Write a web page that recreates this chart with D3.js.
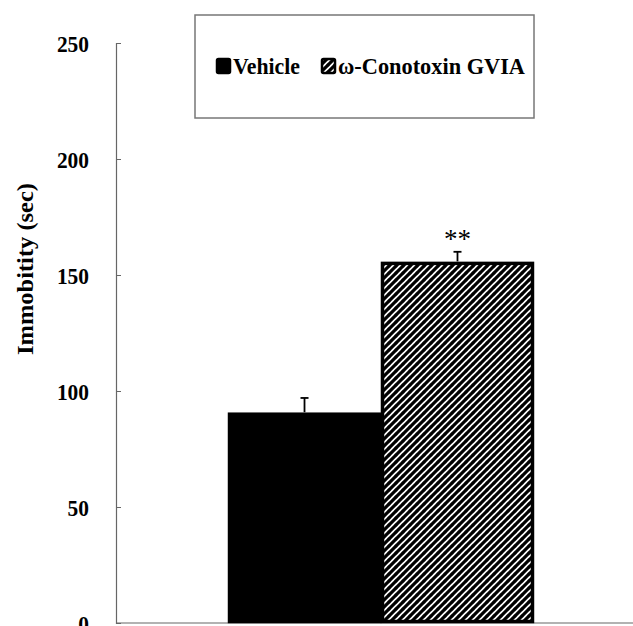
<!DOCTYPE html>
<html>
<head>
<meta charset="utf-8">
<script src="https://cdn.jsdelivr.net/npm/d3@7"></script>
<style>
  body { margin: 0; background: #fff; }
  text { font-family: "Liberation Serif", "Times New Roman", serif; }
</style>
</head>
<body>
<div id="chart"></div>
<script>
// data
const groups = ['Immobility'];
const series = ['Vehicle', 'ω-Conotoxin GVIA'];
const means = [90, 155];
const errors = [7, 5];
const stars = ['', '**'];
const yTicks = [0, 50, 100, 150, 200, 250];
const yLabel = 'Immobitity (sec)';

const width = 633;
const height = 626;
const margin = { top: 43, right: -13, bottom: 3, left: 116 };

const svg = d3.select('#chart').append('svg')
  .attr('width', width)
  .attr('height', height);

// hatch pattern for the second series
const defs = svg.append('defs');
const hatch = defs.append('pattern')
  .attr('id', 'hatch')
  .attr('patternUnits', 'userSpaceOnUse')
  .attr('width', 7)
  .attr('height', 7);
hatch.append('rect').attr('width', 7).attr('height', 7).attr('fill', '#fff');
hatch.append('path')
  .attr('d', 'M0,7 L7,0 M-1,1 L1,-1 M6,8 L8,6')
  .attr('stroke', '#000')
  .attr('stroke-width', 3.2);

const y = d3.scaleLinear()
  .domain([0, 250])
  .range([height - margin.bottom, margin.top]);

const x0 = d3.scaleBand()
  .domain(groups)
  .range([margin.left, width - margin.right])
  .padding(0.268);

const x1 = d3.scaleBand()
  .domain(series)
  .range([0, x0.bandwidth()]);

const fills = ['#000', 'url(#hatch)'];

// y axis, ticks pointing inwards
const yAxis = svg.append('g')
  .attr('transform', `translate(${margin.left},0)`)
  .call(d3.axisRight(y).tickValues(yTicks).tickSize(5).tickFormat(''));
yAxis.select('.domain').attr('stroke', '#666').attr('stroke-width', 1.2);
yAxis.selectAll('.tick line').attr('stroke', '#666');

svg.append('g')
  .selectAll('text')
  .data(yTicks)
  .enter()
  .append('text')
  .attr('x', margin.left - 27)
  .attr('y', d => y(d))
  .attr('dy', '0.36em')
  .attr('text-anchor', 'end')
  .attr('textLength', d => String(d).length * 10.7)
  .attr('lengthAdjust', 'spacingAndGlyphs')
  .style('font-size', '24px')
  .style('font-weight', 'bold')
  .text(d => d);

// x axis baseline
svg.append('line')
  .attr('x1', margin.left)
  .attr('x2', width - margin.right)
  .attr('y1', y(0))
  .attr('y2', y(0))
  .attr('stroke', '#666')
  .attr('stroke-width', 1.2);

svg.append('text')
  .attr('transform', `translate(33,${(y(0) + y(250)) / 2 - 64}) rotate(-90)`)
  .attr('text-anchor', 'middle')
  .attr('textLength', 172)
  .attr('lengthAdjust', 'spacingAndGlyphs')
  .style('font-size', '24px')
  .style('font-weight', 'bold')
  .text(yLabel);

// bars
const group = svg.append('g')
  .attr('transform', `translate(${x0(groups[0])},0)`);

const bars = group.selectAll('g.bar')
  .data(series.map((s, i) => ({ name: s, value: means[i], err: errors[i], star: stars[i], fill: fills[i] })))
  .enter()
  .append('g')
  .attr('class', 'bar');

bars.append('rect')
  .attr('x', d => x1(d.name) + 1.5)
  .attr('y', d => y(d.value))
  .attr('width', x1.bandwidth() - 3)
  .attr('height', d => y(0) - y(d.value) - 1.5)
  .attr('fill', d => d.fill)
  .attr('stroke', '#000')
  .attr('stroke-width', 3.5);

// error bars, upward only
bars.append('line')
  .attr('x1', d => x1(d.name) + x1.bandwidth() / 2)
  .attr('x2', d => x1(d.name) + x1.bandwidth() / 2)
  .attr('y1', d => y(d.value) - 2)
  .attr('y2', d => y(d.value + d.err))
  .attr('stroke', '#000')
  .attr('stroke-width', 1.8);

bars.append('line')
  .attr('x1', d => x1(d.name) + x1.bandwidth() / 2 - 4)
  .attr('x2', d => x1(d.name) + x1.bandwidth() / 2 + 4)
  .attr('y1', d => y(d.value + d.err))
  .attr('y2', d => y(d.value + d.err))
  .attr('stroke', '#000')
  .attr('stroke-width', 1.8);

bars.append('text')
  .attr('x', d => x1(d.name) + x1.bandwidth() / 2)
  .attr('y', d => y(d.value + d.err) - 4)
  .attr('text-anchor', 'middle')
  .style('font-size', '27px')
  .text(d => d.star);

// legend
const legend = svg.append('g');
legend.append('rect')
  .attr('x', 195)
  .attr('y', 15)
  .attr('width', 339)
  .attr('height', 103)
  .attr('fill', '#fff')
  .attr('stroke', '#777')
  .attr('stroke-width', 1.5);

const legendX = [216, 321];
const legendLen = [67, 187];
const items = legend.selectAll('g.item')
  .data(series)
  .enter()
  .append('g')
  .attr('class', 'item')
  .attr('transform', (d, i) => `translate(${legendX[i]},58)`);

items.append('rect')
  .attr('x', 1)
  .attr('y', 1)
  .attr('width', 13)
  .attr('height', 14)
  .attr('rx', 1.5)
  .attr('fill', (d, i) => fills[i])
  .attr('stroke', '#000')
  .attr('stroke-width', 2.5);

items.append('text')
  .attr('x', 17)
  .attr('y', 16)
  .attr('textLength', (d, i) => legendLen[i])
  .attr('lengthAdjust', 'spacingAndGlyphs')
  .style('font-size', '23px')
  .style('font-weight', 'bold')
  .text(d => d);
</script>
</body>
</html>
